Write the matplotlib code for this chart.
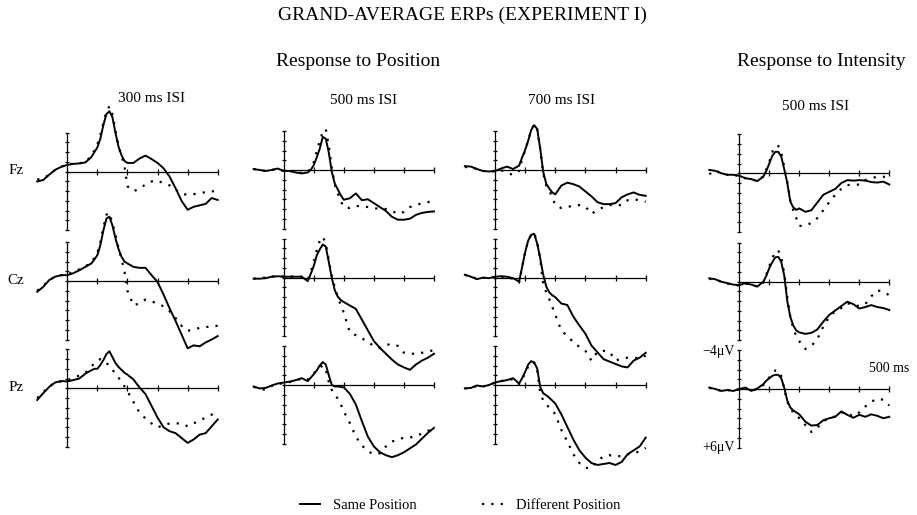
#Grand-average ERPs, experiment I

import numpy as np
import matplotlib.pyplot as plt

plt.rcParams['font.family'] = ['Liberation Serif', 'DejaVu Serif']

# sample times in ms: 20 ms steps, 10 ms steps around the N1 peak
t = np.r_[-100:80:20, 80:200:10, 200:501:20]

# amplitudes in microvolts (negative is up)
# Response to Position, 300 ms ISI
fz300_same = [1.0, 0.85, 0.3, -0.2, -0.5, -0.7, -0.8, -0.85, -0.95,
              -1.5, -2.0, -2.5, -3.4, -4.8, -5.9, -6.2, -5.6, -4.0, -2.6, -1.7, -1.1,
              -0.9, -0.9, -1.35, -1.65, -1.3, -0.9, -0.35, 0.5, 1.7, 3.0, 3.9, 3.6, 3.45, 3.3, 2.7, 2.9]
fz300_diff = [0.8, 0.7, 0.3, -0.2, -0.5, -0.8, -0.8, -0.85, -1.0,
              -1.6, -2.2, -2.8, -3.8, -5.0, -6.2, -6.7, -5.9, -4.2, -2.7, -1.6, -0.6,
              1.5, 2.0, 1.75, 1.3, 1.0, 0.9, 1.2, 1.4, 1.85, 2.3, 2.35, 2.3, 2.2, 2.1, 2.0, 2.05]
cz300_same = [1.1, 0.6, -0.1, -0.45, -0.6, -0.6, -0.8, -1.1, -1.45,
              -1.8, -2.2, -2.65, -3.7, -5.2, -6.4, -6.6, -5.7, -4.4, -3.3, -2.5, -2.0,
              -1.8, -1.45, -1.35, -1.35, -0.6, 0.1, 1.4, 2.8, 4.1, 5.5, 6.9, 6.6, 6.7, 6.3, 6.0, 5.65]
cz300_diff = [1.0, 0.5, -0.1, -0.45, -0.6, -0.7, -0.9, -1.2, -1.5,
              -1.9, -2.4, -2.9, -4.0, -5.5, -6.8, -7.0, -5.9, -4.8, -3.4, -2.3, -1.0,
              1.0, 2.5, 2.3, 1.9, 2.1, 2.3, 2.6, 3.1, 3.8, 4.6, 5.1, 5.0, 4.8, 4.75, 4.6, 4.6]
pz300_same = [1.2, 0.5, -0.15, -0.6, -0.75, -0.7, -0.85, -1.0, -1.5,
              -1.85, -2.0, -2.0, -2.4, -2.9, -3.5, -3.8, -3.2, -2.6, -2.2, -1.9, -1.6,
              -1.4, -0.9, -0.1, 0.6, 1.8, 3.0, 4.0, 4.4, 4.6, 5.1, 5.6, 5.25, 4.75, 4.6, 3.9, 3.2]
pz300_diff = [1.0, 0.4, -0.2, -0.6, -0.7, -0.8, -1.1, -1.3, -1.6,
              -2.2, -2.6, -2.8, -3.0, -2.9, -2.6, -2.3, -1.9, -1.5, -1.1, -0.7, -0.2,
              0.3, 1.4, 2.5, 3.1, 3.6, 4.0, 3.8, 3.6, 3.6, 3.6, 3.9, 3.6, 3.3, 3.0, 2.7, 2.4]

# Response to Position, 500 ms ISI
fz500_same = [-0.1, 0.0, 0.1, 0.0, -0.15, 0.1, 0.1, 0.25, 0.35,
              0.25, 0.0, -0.5, -1.3, -2.2, -3.4, -3.2, -1.8, 0.2, 1.4, 2.0, 2.6,
              3.05, 2.9, 2.4, 3.1, 3.0, 3.4, 3.8, 4.2, 4.8, 5.1, 5.1, 5.0, 4.6, 4.4, 4.3, 4.25]
fz500_diff = [-0.1, 0.0, 0.1, 0.0, -0.1, 0.1, 0.1, 0.2, 0.3,
              0.2, -0.2, -0.8, -1.9, -3.0, -3.9, -4.2, -2.5, -0.2, 1.5, 2.4, 3.2,
              3.8, 3.9, 3.7, 3.7, 3.8, 3.9, 4.0, 4.0, 4.2, 4.5, 4.3, 3.8, 3.6, 3.4, 3.3, 3.1]
cz500_same = [0.1, 0.1, 0.05, -0.1, -0.15, -0.1, -0.1, -0.1, -0.1,
              0.35, -0.4, -1.2, -2.3, -2.9, -3.4, -3.2, -1.6, 0.0, 1.3, 1.95, 2.3,
              2.5, 2.85, 3.2, 4.3, 5.4, 6.5, 7.2, 7.8, 8.4, 8.9, 9.2, 9.45, 8.9, 8.5, 8.2, 7.8]
cz500_diff = [0.1, 0.0, 0.0, -0.1, -0.2, -0.1, -0.1, -0.15, -0.1,
              0.2, -0.6, -1.6, -2.8, -3.8, -4.2, -3.5, -1.8, -0.2, 1.0, 2.0, 2.8,
              3.6, 5.6, 5.9, 6.2, 6.6, 7.0, 7.2, 6.9, 6.8, 7.0, 7.7, 7.8, 7.8, 7.7, 7.6, 7.4]
pz500_same = [0.15, 0.35, 0.3, 0.05, -0.15, -0.25, -0.35, -0.5, -0.7,
              -0.4, -0.75, -1.1, -1.5, -2.0, -2.35, -2.1, -1.0, 0.0, 0.15, 0.15, 0.2,
              0.25, 0.9, 2.0, 3.7, 5.3, 6.3, 6.9, 7.2, 7.4, 7.2, 6.9, 6.5, 6.1, 5.5, 4.9, 4.4]
pz500_diff = [0.2, 0.4, 0.5, 0.1, -0.1, -0.2, -0.3, -0.45, -0.65,
              -0.55, -0.9, -1.2, -1.5, -1.8, -2.0, -1.6, -0.3, 0.5, 1.0, 1.4, 2.0,
              2.7, 3.9, 5.3, 6.2, 6.8, 7.1, 7.0, 6.3, 5.8, 5.6, 5.4, 5.4, 5.2, 5.0, 4.7, 4.4]

# Response to Position, 700 ms ISI
fz700_same = [-0.4, -0.35, -0.1, 0.1, 0.15, 0.1, -0.15, -0.35, -0.1,
              -0.45, -1.3, -2.05, -3.0, -4.1, -4.6, -4.2, -2.2, 0.2, 1.4, 1.9, 2.3,
              2.5, 1.6, 1.3, 1.45, 1.7, 2.2, 2.7, 3.3, 3.5, 3.5, 3.4, 2.8, 2.5, 2.3, 2.55, 2.65]
fz700_diff = [-0.3, -0.3, -0.1, 0.1, 0.15, 0.15, 0.0, 0.3, 0.5,
              0.1, -1.1, -2.0, -3.0, -4.1, -4.7, -4.2, -2.2, 0.4, 1.6, 2.1, 2.8,
              3.6, 3.9, 3.8, 3.65, 3.6, 3.75, 4.5, 4.1, 3.8, 3.6, 3.6, 3.6, 3.1, 3.0, 3.1, 3.25]
cz700_same = [-0.3, -0.1, 0.15, 0.0, 0.05, -0.1, -0.15, -0.1, 0.05,
              0.4, -1.1, -2.6, -3.8, -4.4, -4.5, -3.5, -2.0, -0.3, 0.9, 1.5, 1.8,
              2.0, 2.65, 2.8, 4.0, 4.9, 5.75, 6.95, 7.65, 8.35, 8.6, 8.85, 9.1, 9.2, 8.5, 8.2, 7.7]
cz700_diff = [-0.3, -0.1, 0.1, 0.0, 0.05, -0.1, -0.1, 0.0, 0.1,
              0.5, -1.1, -2.6, -3.8, -4.4, -4.6, -3.6, -1.9, 0.7, 1.5, 2.2, 3.0,
              3.8, 5.4, 6.0, 6.6, 7.1, 7.5, 8.5, 7.6, 7.5, 7.6, 8.5, 8.3, 8.2, 8.2, 8.3, 8.0]
pz700_same = [0.35, 0.3, 0.05, 0.15, 0.0, -0.25, -0.4, -0.5, -0.7,
              -0.15, -0.7, -1.35, -2.1, -2.45, -2.3, -1.7, 0.2, 0.85, 1.05, 1.3, 1.6,
              1.9, 3.0, 4.3, 5.6, 6.7, 7.45, 8.0, 8.2, 8.1, 8.0, 8.2, 7.9, 7.1, 6.7, 6.3, 5.4]
pz700_diff = [0.35, 0.3, 0.1, 0.15, 0.0, -0.25, -0.4, -0.5, -0.6,
              -0.1, -0.6, -1.2, -1.9, -2.3, -2.3, -1.5, 0.8, 1.6, 2.0, 2.3, 2.6,
              3.0, 4.6, 5.8, 7.1, 8.0, 8.5, 8.5, 7.8, 7.3, 7.2, 7.3, 7.3, 7.1, 7.0, 6.8, 6.45]

# Response to Intensity, 500 ms ISI
intfz_same = [-0.35, -0.25, 0.0, 0.15, 0.15, 0.25, 0.5, 0.6, 0.8,
              0.35, -0.25, -1.0, -1.8, -2.2, -2.2, -1.7, -0.4, 1.0, 2.9, 3.5, 3.75,
              3.6, 3.95, 3.8, 3.0, 2.2, 1.9, 1.6, 1.0, 0.7, 0.75, 0.7, 0.75, 0.9, 0.95, 0.85, 1.15]
intfz_diff = [0.1, -0.3, 0.0, 0.15, 0.15, 0.3, 0.5, 0.6, 0.8,
              0.3, -0.4, -1.2, -2.2, -2.8, -2.8, -2.1, -0.6, 0.9, 2.8, 3.8, 4.6,
              5.4, 5.35, 5.1, 4.6, 3.8, 2.95, 2.2, 1.6, 1.2, 1.2, 1.15, 0.7, 0.5, 0.35, 0.35, 0.5]
intcz_same = [-0.35, -0.25, 0.0, 0.15, 0.3, 0.35, 0.15, 0.3, 0.5,
              0.0, -0.6, -1.4, -2.0, -2.5, -2.55, -2.0, -0.6, 2.0, 3.6, 4.5, 5.0,
              5.2, 5.35, 5.25, 4.9, 4.1, 3.4, 2.95, 2.5, 2.05, 2.3, 2.75, 2.6, 2.4, 2.6, 2.7, 2.9]
intcz_diff = [-0.3, -0.2, 0.0, 0.2, 0.3, 0.4, 0.2, 0.3, 0.5,
              0.1, -0.7, -1.6, -2.4, -3.1, -3.2, -2.5, -0.8, 1.6, 3.6, 4.8, 5.6,
              6.1, 6.9, 6.6, 5.9, 4.6, 3.6, 3.0, 2.7, 2.2, 2.4, 2.5, 2.3, 1.5, 0.9, 1.0, 1.4]
intpz_same = [-0.15, 0.0, 0.2, 0.1, 0.2, 0.0, -0.15, 0.2, -0.05,
              -0.5, -0.85, -1.1, -1.35, -1.45, -1.45, -1.1, -0.1, 1.2, 1.9, 2.2, 2.4,
              2.6, 3.35, 3.75, 3.7, 3.2, 3.0, 2.85, 2.3, 2.65, 2.95, 2.65, 2.85, 2.6, 2.75, 3.0, 2.85]
intpz_diff = [-0.1, 0.0, 0.2, 0.1, 0.2, 0.0, -0.1, 0.2, 0.0,
              -0.4, -0.8, -1.2, -1.6, -1.9, -1.9, -1.3, 0.0, 1.3, 2.0, 2.4, 2.7,
              3.0, 3.7, 4.4, 4.0, 3.3, 3.0, 2.8, 2.4, 2.5, 2.8, 2.4, 1.8, 1.3, 1.0, 1.1, 1.7]

columns = ['300 ms ISI', '500 ms ISI', '700 ms ISI', '500 ms ISI']
sites = ['Fz', 'Cz', 'Pz']
waves = [
    [(fz300_same, fz300_diff), (cz300_same, cz300_diff), (pz300_same, pz300_diff)],
    [(fz500_same, fz500_diff), (cz500_same, cz500_diff), (pz500_same, pz500_diff)],
    [(fz700_same, fz700_diff), (cz700_same, cz700_diff), (pz700_same, pz700_diff)],
    [(intfz_same, intfz_diff), (intcz_same, intcz_diff), (intpz_same, intpz_diff)],
]

# layout in pixels of the 917x515 image
W, H = 917, 515
PX_UV = 9.75
col_x = [(67.3, 217.7), (283.7, 434.0), (495.0, 645.7), (739.3, 889.3)]
row_y = [[171.7, 281.0, 388.3], [170.0, 277.7, 385.0],
         [170.0, 277.7, 385.0], [173.3, 281.7, 389.0]]

fig = plt.figure(figsize=(W / 100, H / 100), dpi=100)


def make_panel(c, r):
    x0, x1 = col_x[c]
    y0 = row_y[c][r]
    ppm = (x1 - x0) / 500
    left, width = x0 - 110 * ppm, 620 * ppm
    top, height = y0 - 8 * PX_UV, 20 * PX_UV
    ax = fig.add_axes([left / W, 1 - (top + height) / H, width / W, height / H])
    ax.set_xlim(-110, 510)
    ax.set_ylim(12, -8)
    ax.patch.set_visible(False)
    for s in ['top', 'right']:
        ax.spines[s].set_visible(False)
    ax.spines['left'].set_position(('data', 0))
    ax.spines['left'].set_bounds(-4, 6)
    ax.spines['bottom'].set_position(('data', 0))
    ax.spines['bottom'].set_bounds(0, 500)
    for s in ['left', 'bottom']:
        ax.spines[s].set_linewidth(0.9)
    ax.set_xticks([100, 200, 300, 400, 500])
    ax.set_yticks(range(-4, 7))
    ax.tick_params(axis='x', direction='inout', length=4.5, width=0.9, labelbottom=False)
    ax.tick_params(axis='y', direction='inout', length=3, width=0.9, labelleft=False)
    return ax


for c in range(4):
    for r in range(3):
        ax = make_panel(c, r)
        same, diff = waves[c][r]
        l1, = ax.plot(t, same, color='black', lw=1.4, solid_joinstyle='round')
        l2, = ax.plot(t, diff, color='black', lw=1.6, linestyle=(0, (1, 3.2)))
        if c == 0 and r == 0:
            handles = [l1, l2]

# titles and labels
fig.text(462 / W, 1 - 15 / H, 'GRAND-AVERAGE ERPs (EXPERIMENT I)', ha='center', va='center', fontsize=14)
fig.text(358 / W, 1 - 62 / H, 'Response to Position', ha='center', va='center', fontsize=14)
fig.text(821 / W, 1 - 62 / H, 'Response to Intensity', ha='center', va='center', fontsize=14)
label_pos = [(152, 99), (364, 101), (562, 101), (816, 106)]
for name, (lx, ly) in zip(columns, label_pos):
    fig.text(lx / W, 1 - ly / H, name, ha='center', va='center', fontsize=11)
for name, y in zip(sites, row_y[0]):
    fig.text(24 / W, 1 - (y - 1) / H, name, ha='right', va='center', fontsize=11)

fig.text(735 / W, 1 - 352 / H, '\u22124\u03bcV', ha='right', va='center', fontsize=10)
fig.text(735 / W, 1 - 447 / H, '+6\u03bcV', ha='right', va='center', fontsize=10)
fig.text(889 / W, 1 - 369 / H, '500 ms', ha='center', va='center', fontsize=10)

fig.legend(handles, ['Same Position', 'Different Position'], loc='center',
           bbox_to_anchor=(460 / W, 1 - 505 / H), ncol=2, frameon=False, fontsize=10.5,
           handlelength=1.4, handletextpad=0.9, columnspacing=4.5)

fig.savefig('out.png', dpi=100)
